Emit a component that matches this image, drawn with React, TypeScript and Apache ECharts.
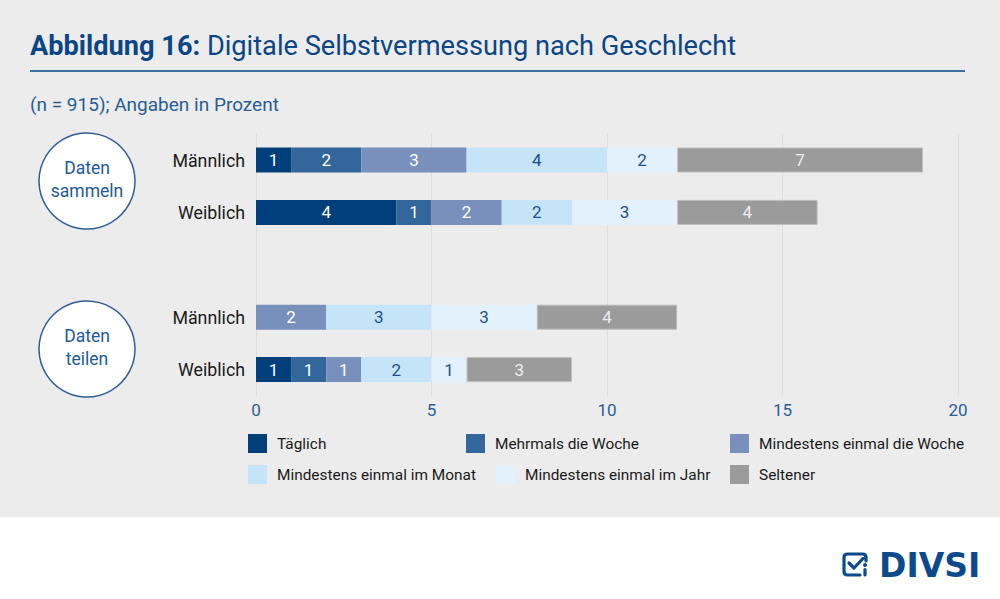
import React, { useEffect, useRef } from "react";
import * as echarts from "echarts";

const rowKeys = ["sammeln_m", "sammeln_w", "gap", "teilen_m", "teilen_w"];
const rowLabels = ["Männlich", "Weiblich", "", "Männlich", "Weiblich"];

const seriesNames = [
  "Täglich",
  "Mehrmals die Woche",
  "Mindestens einmal die Woche",
  "Mindestens einmal im Monat",
  "Mindestens einmal im Jahr",
  "Seltener",
];

const taeglich = [1, 4, null, 0, 1];
const mehrmals = [2, 1, null, 0, 1];
const wocheEinmal = [3, 2, null, 2, 1];
const monatEinmal = [4, 2, null, 3, 2];
const jahrEinmal = [2, 3, null, 3, 1];
const seltener = [7, 4, null, 4, 3];

const seriesValues = [taeglich, mehrmals, wocheEinmal, monatEinmal, jahrEinmal, seltener];

const colors = ["#003f7a", "#33669a", "#7890bb", "#c6e4f8", "#e2f1fc", "#9b9b9b"];
const labelColors = ["#ffffff", "#ffffff", "#ffffff", "#1f4f87", "#1f4f87", "#eeeeee"];

const groupLabels = ["Daten\nsammeln", "Daten\nteilen"];

const xMin = 0;
const xMax = 20;
const xInterval = 5;

const FONT = "Roboto, 'Noto Sans', sans-serif";

const ICON_D =
  "M24 9 V5.5 Q24 2 20.5 2 H5.5 Q2 2 2 5.5 V19.5 Q2 23 5.5 23 H18 M7 11 L12 16 L21 6.5";

export default function App() {
  const ref = useRef<HTMLDivElement>(null);

  useEffect(() => {
    if (!ref.current) return;
    echarts.graphic.registerShape("divsiIcon", echarts.graphic.extendPath(ICON_D, {}) as any);

    const chart = echarts.init(ref.current, null, { renderer: "svg" });

    const legendPos = [
      [248, 434],
      [466, 434],
      [730, 434],
      [248, 465],
      [496, 465],
      [730, 465],
    ];

    const option: any = {
      animation: false,
      backgroundColor: "transparent",
      textStyle: { fontFamily: FONT },
      grid: { left: 256, right: 42, top: 133.8, height: 262, containLabel: false },
      xAxis: {
        type: "value",
        min: xMin,
        max: xMax,
        interval: xInterval,
        axisLine: { show: false },
        axisTick: { show: false },
        splitLine: { show: true, lineStyle: { color: "#dedede", width: 1 } },
        axisLabel: { color: "#2a5d93", fontSize: 17, margin: 6, fontFamily: FONT },
      },
      yAxis: {
        type: "category",
        data: rowKeys,
        inverse: true,
        axisLine: { show: false },
        axisTick: { show: false },
        splitLine: { show: false },
        axisLabel: {
          formatter: (_v: string, i: number) => rowLabels[i],
          color: "#1a1a1a",
          fontSize: 17.8,
          margin: 11,
          fontFamily: FONT,
        },
      },
      legend: seriesNames.map((name, i) => ({
        show: true,
        data: [name],
        left: legendPos[i][0],
        top: legendPos[i][1],
        padding: 0,
        itemWidth: 19,
        itemHeight: 19,
        icon: "rect",
        selectedMode: false,
        itemStyle: { borderWidth: 0 },
        textStyle: { color: "#1a1a1a", fontSize: 15.4, fontFamily: FONT, padding: [0, 0, 0, 5] },
      })),
      series: seriesNames.map((name, i) => ({
        name,
        type: "bar",
        stack: "total",
        barWidth: 25,
        data: seriesValues[i],
        itemStyle: {
          color: colors[i],
          borderColor: i === 5 ? "#bdbdbd" : undefined,
          borderWidth: i === 5 ? 1 : 0,
        },
        label: {
          show: true,
          position: "inside",
          color: labelColors[i],
          fontSize: 17,
          fontFamily: FONT,
          formatter: (p: any) => (p.value ? String(p.value) : ""),
        },
      })),
      graphic: [
        {
          type: "text",
          x: 30,
          y: 46,
          style: {
            text: "{b|Abbildung 16:} Digitale Selbstvermessung nach Geschlecht",
            fontSize: 27.2,
            fontFamily: FONT,
            fill: "#0b4586",
            verticalAlign: "middle",
            textVerticalAlign: "middle",
            rich: {
              b: { fontSize: 27.2, fontWeight: "bold", fontFamily: FONT, fill: "#0b4586", color: "#0b4586" },
            },
          },
        },
        {
          type: "line",
          shape: { x1: 30, y1: 71, x2: 965, y2: 71 },
          style: { stroke: "#3a6fa5", lineWidth: 2 },
        },
        {
          type: "text",
          x: 30,
          y: 104,
          style: {
            text: "(n = 915); Angaben in Prozent",
            fontSize: 19,
            fontFamily: FONT,
            fill: "#2a5d93",
            verticalAlign: "middle",
            textVerticalAlign: "middle",
          },
        },
        ...[181, 349].flatMap((cy, i) => [
          {
            type: "circle",
            shape: { cx: 87, cy, r: 48 },
            style: { fill: "#ffffff", stroke: "#2b5f95", lineWidth: 1.5 },
          },
          {
            type: "text",
            x: 87,
            y: cy - 2,
            style: {
              text: groupLabels[i],
              fontSize: 17.5,
              lineHeight: 23,
              fontFamily: FONT,
              fill: "#1d5a97",
              align: "center",
              textAlign: "center",
              verticalAlign: "middle",
              textVerticalAlign: "middle",
            },
          },
        ]),
        {
          type: "divsiIcon",
          x: 842,
          y: 552,
          style: { fill: null, stroke: "#0d4a8c", lineWidth: 3.2, lineCap: "round", lineJoin: "round" },
        },
        {
          type: "circle",
          shape: { cx: 865, cy: 565, r: 2 },
          style: { fill: "#0d4a8c" },
        },
        {
          type: "line",
          shape: { x1: 865, y1: 569.5, x2: 865, y2: 575 },
          style: { stroke: "#0d4a8c", lineWidth: 3.2, lineCap: "round" },
        },
        {
          type: "text",
          x: 879,
          y: 565,
          style: {
            text: "DIVSI",
            fontSize: 33,
            fontWeight: "bold",
            fontFamily: "'DejaVu Sans', sans-serif",
            fill: "#0d4a8c",
            verticalAlign: "middle",
            textVerticalAlign: "middle",
          },
        },
      ],
    };

    chart.setOption(option);
    return () => {
      chart.dispose();
    };
  }, []);

  return (
    <div
      style={{
        position: "absolute",
        left: 0,
        top: 0,
        width: 1000,
        height: 599,
        background: "linear-gradient(to bottom, #ececec 0px, #ececec 517px, #ffffff 517px, #ffffff 599px)",
      }}
    >
      <div ref={ref} style={{ width: 1000, height: 599 }} />
    </div>
  );
}
